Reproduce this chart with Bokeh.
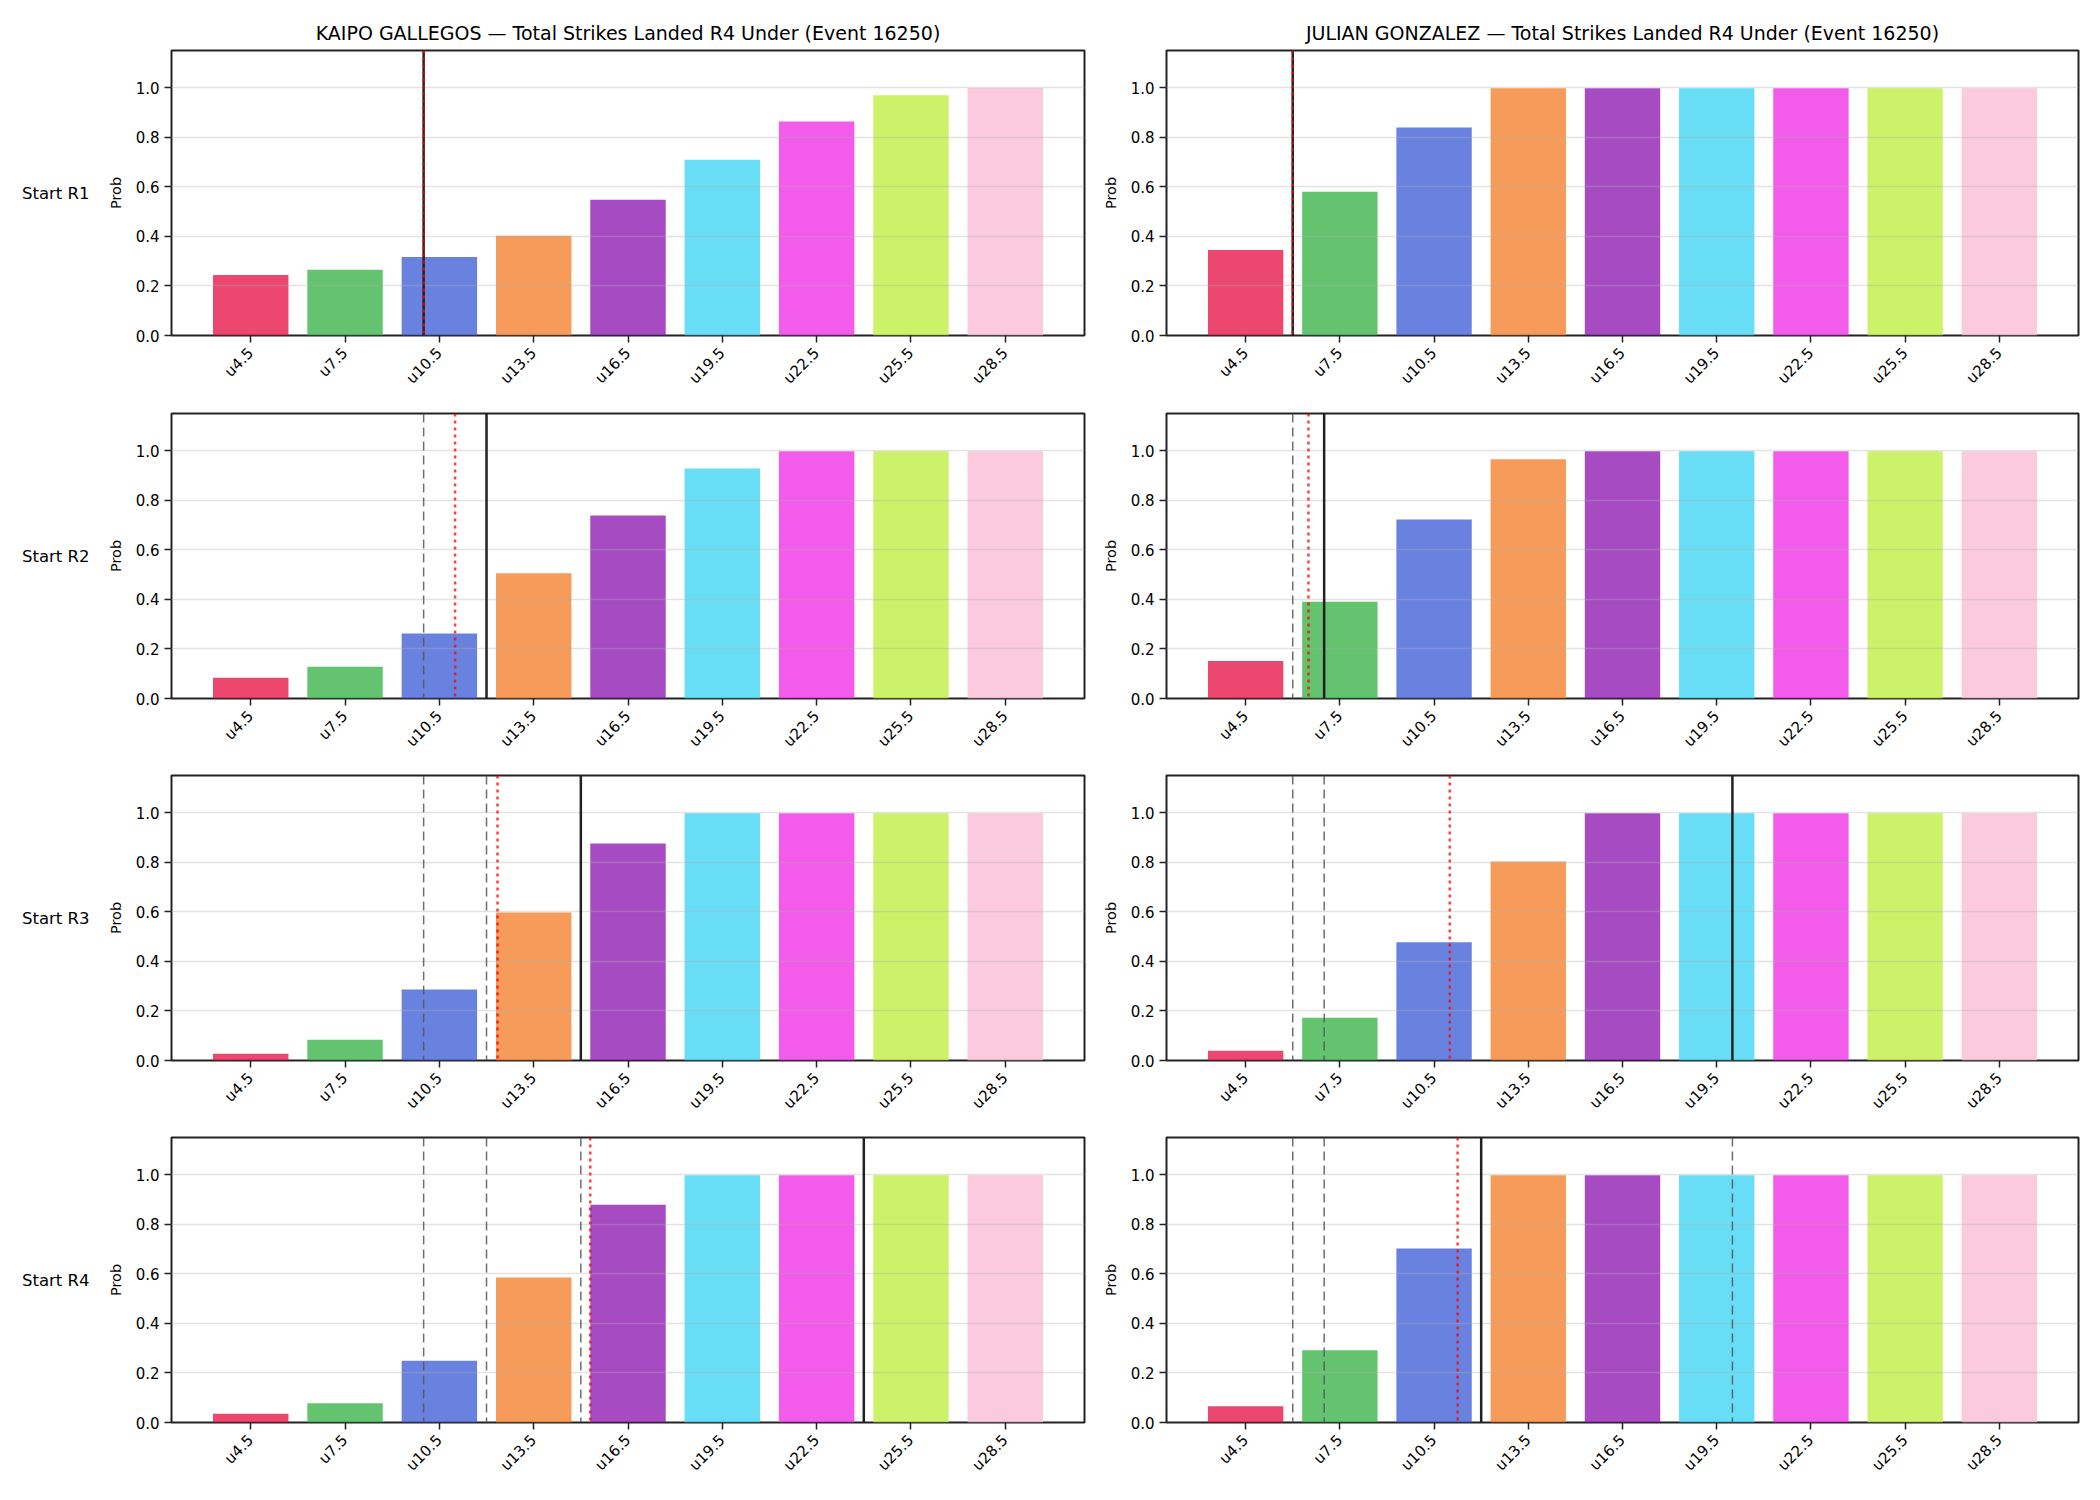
import math
import numpy as np
from bokeh.plotting import figure
from bokeh.layouts import column, row
from bokeh.models import (Range1d, FixedTicker, NumeralTickFormatter, Span,
                          LinearAxis, ColumnDataSource)
from bokeh.embed import file_html
from bokeh.resources import INLINE

# ---------------- data ----------------
thresholds = [4.5, 7.5, 10.5, 13.5, 16.5, 19.5, 22.5, 25.5, 28.5]
tick_labels = ["u4.5", "u7.5", "u10.5", "u13.5", "u16.5", "u19.5", "u22.5", "u25.5", "u28.5"]
bar_colors = ["#e6194b", "#3cb44b", "#4363d8", "#f58231", "#911eb4",
              "#42d4f4", "#f032e6", "#bfef45", "#fabed4"]
row_labels = ["Start R1", "Start R2", "Start R3", "Start R4"]
y_ticks = [0.0, 0.2, 0.4, 0.6, 0.8, 1.0]

titles = ["KAIPO GALLEGOS \u2014 Total Strikes Landed R4 Under (Event 16250)",
          "JULIAN GONZALEZ \u2014 Total Strikes Landed R4 Under (Event 16250)"]

kaipo_r1 = [0.244, 0.265, 0.317, 0.402, 0.548, 0.709, 0.864, 0.969, 0.999]
kaipo_r2 = [0.084, 0.128, 0.262, 0.505, 0.738, 0.928, 0.998, 0.998, 0.998]
kaipo_r3 = [0.027, 0.084, 0.286, 0.597, 0.876, 0.998, 0.998, 0.998, 0.998]
kaipo_r4 = [0.035, 0.078, 0.249, 0.585, 0.879, 0.998, 0.998, 0.998, 0.998]

julian_r1 = [0.345, 0.580, 0.839, 0.998, 0.998, 0.998, 0.998, 0.998, 0.998]
julian_r2 = [0.151, 0.390, 0.722, 0.965, 0.998, 0.998, 0.998, 0.998, 0.998]
julian_r3 = [0.039, 0.173, 0.477, 0.803, 0.998, 0.998, 0.998, 0.998, 0.998]
julian_r4 = [0.066, 0.292, 0.702, 0.998, 0.998, 0.998, 0.998, 0.998, 0.998]

# strikes landed so far at start of each round (solid line; earlier ones dashed)
kaipo_current = [10, 12, 15, 24]
julian_current = [6, 7, 20, 12]
# red dotted marker per round
kaipo_marker = [10, 11, 12.35, 15.3]
julian_marker = [6, 6.5, 11.0, 11.25]

FONT = "DejaVu Sans"
INK = "#222222"


def to_idx(v):
    return float(np.interp(v, thresholds, list(range(len(thresholds)))))


def make_panel(probs, current_list, marker_list, col, r):
    left = col == 0
    top = r == 0
    p = figure(width=1094 if left else 1006, height=409 if top else 362,
               x_range=Range1d(-0.84, 8.84), y_range=Range1d(0, 1.15),
               output_backend="svg", toolbar_location=None,
               min_border_left=171 if left else 72,
               min_border_right=10 if left else 22,
               min_border_top=50 if top else 4,
               min_border_bottom=74 if top else 73,
               background_fill_color="white", border_fill_color="white")
    if top:
        p.title.text = titles[col]
        p.title.align = "center"
        p.title.text_font = FONT
        p.title.text_font_size = "19px"
        p.title.text_font_style = "normal"
        p.title.text_color = "black"
        p.title.standoff = 13

    src = ColumnDataSource(dict(x=list(range(len(thresholds))), top=probs, color=bar_colors))
    p.vbar(x="x", top="top", bottom=0, width=0.8, source=src,
           fill_color="color", fill_alpha=0.8, line_color=None)

    # grid
    p.xgrid.visible = False
    p.ygrid.ticker = FixedTicker(ticks=y_ticks)
    p.ygrid.grid_line_color = "#b0b0b0"
    p.ygrid.grid_line_alpha = 0.35
    p.ygrid.grid_line_width = 1.5
    p.ygrid.level = "guide"

    # lines
    for v in current_list[:r]:
        p.add_layout(Span(location=to_idx(v), dimension="height", line_color="#555555",
                          line_alpha=0.85, line_dash="9 5", line_width=1.5))
    p.add_layout(Span(location=to_idx(current_list[r]), dimension="height",
                      line_color=INK, line_width=2.5))
    p.add_layout(Span(location=to_idx(marker_list[r]), dimension="height",
                      line_color="red", line_alpha=0.75, line_dash="3 4", line_width=2.5))

    # frame
    p.outline_line_color = INK
    p.outline_line_width = 2
    p.outline_line_alpha = 1

    # axes
    xa = p.xaxis[0]
    xa.ticker = FixedTicker(ticks=list(range(len(thresholds))))
    xa.major_label_overrides = {i: lab for i, lab in enumerate(tick_labels)}
    xa.major_label_orientation = math.pi / 4
    ya = p.yaxis[0]
    ya.ticker = FixedTicker(ticks=y_ticks)
    ya.formatter = NumeralTickFormatter(format="0.0")
    ya.axis_label = "Prob"
    ya.axis_label_text_font = FONT
    ya.axis_label_text_font_size = "14.5px"
    ya.axis_label_text_font_style = "normal"
    ya.axis_label_text_color = "black"
    ya.axis_label_standoff = 9
    for ax in (xa, ya):
        ax.axis_line_color = None
        ax.major_tick_line_color = INK
        ax.major_tick_line_width = 1.5
        ax.major_tick_out = 7
        ax.major_tick_in = 0
        ax.minor_tick_line_color = None
        ax.major_label_text_font = FONT
        ax.major_label_text_font_size = "15px"
        ax.major_label_text_color = "black"
        ax.major_label_standoff = 5
    xa.major_label_standoff = 8

    if left:
        la = LinearAxis(ticker=FixedTicker(ticks=[]), axis_label=row_labels[r])
        la.axis_label_orientation = "horizontal"
        la.axis_label_text_font = FONT
        la.axis_label_text_font_size = "16.5px"
        la.axis_label_text_font_style = "normal"
        la.axis_label_text_color = "black"
        la.axis_label_standoff = 15
        la.axis_line_color = None
        la.major_tick_line_color = None
        la.minor_tick_line_color = None
        la.major_tick_out = 0
        la.major_tick_in = 0
        la.major_label_text_font_size = "0px"
        la.major_label_standoff = 0
        p.add_layout(la, "left")
    return p


kaipo = [kaipo_r1, kaipo_r2, kaipo_r3, kaipo_r4]
julian = [julian_r1, julian_r2, julian_r3, julian_r4]

rows = []
for r in range(4):
    lp = make_panel(kaipo[r], kaipo_current, kaipo_marker, 0, r)
    rp = make_panel(julian[r], julian_current, julian_marker, 1, r)
    rows.append(row(lp, rp, spacing=0))

layout = column(*rows, spacing=0)
open("out.html", "w").write(file_html(layout, INLINE))
